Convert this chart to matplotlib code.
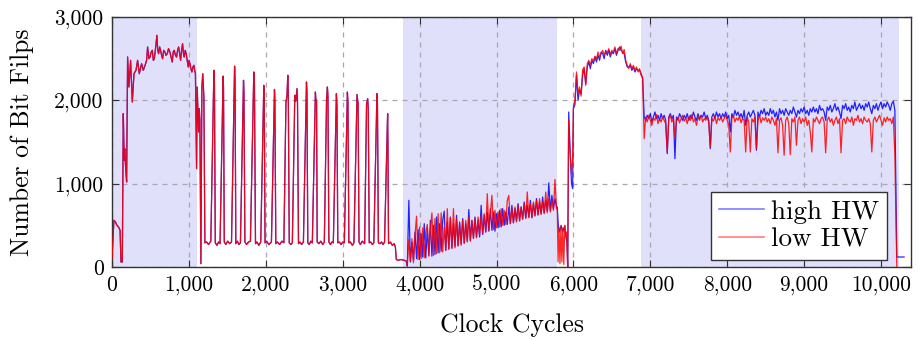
import numpy as np
import matplotlib
matplotlib.use("Agg")
import matplotlib.pyplot as plt
from matplotlib.ticker import FuncFormatter, MultipleLocator
from matplotlib.lines import Line2D


# -----------------------------
# Data
# -----------------------------
# first ~3800 cycles: both traces sit on top of each other
shared_points = [
    (0, 90), (12, 330), (25, 560), (45, 540), (65, 500), (85, 480), (105, 440),
    (117, 60), (134, 60), (147, 1840), (158, 1280), (166, 1420), (177, 1200),
    (190, 1020), (203, 2520), (220, 2160), (242, 2480), (264, 1980), (286, 2320),
    (312, 2360), (333, 2480), (355, 2320), (385, 2440), (407, 2360), (430, 2420),
    (450, 2480), (463, 2640), (480, 2500), (494, 2520), (510, 2580), (524, 2600),
    (538, 2480), (550, 2500), (566, 2620), (584, 2780), (595, 2600), (606, 2560),
    (620, 2640), (632, 2600), (645, 2540), (658, 2500), (672, 2600), (688, 2580),
    (702, 2540), (719, 2560), (735, 2620), (753, 2580), (768, 2520), (783, 2460),
    (796, 2580), (809, 2600), (825, 2540), (840, 2520), (853, 2600), (866, 2640),
    (880, 2560), (892, 2480), (905, 2600), (918, 2680), (929, 2560), (939, 2520),
    (952, 2600), (965, 2560), (978, 2480), (991, 2400), (1002, 2480), (1013, 2440),
    (1026, 2380), (1039, 2340), (1052, 2400), (1065, 2420), (1075, 2360),
    (1085, 2320), (1100, 1180), (1108, 2160), (1117, 1900), (1126, 1620),
    (1135, 1900), (1143, 1760), (1156, 40), (1169, 2160), (1180, 2320),
    (1195, 2040), (1208, 290),
    (1230, 300), (1255, 270), (1285, 310),
    (1325, 2360), (1332, 2200), (1343, 290),
    (1365, 260), (1385, 300), (1405, 280),
    (1445, 2290), (1450, 2150), (1460, 300),
    (1480, 270), (1505, 310), (1530, 280), (1554, 300),
    (1594, 2410), (1600, 2250), (1610, 280),
    (1630, 310), (1650, 270), (1670, 290),
    (1710, 2240), (1716, 2100), (1728, 300),
    (1750, 270), (1775, 300), (1800, 310),
    (1844, 2340), (1852, 2200), (1866, 280),
    (1885, 300), (1910, 260), (1934, 300),
    (1974, 2180), (1980, 2050), (1990, 290),
    (2010, 310), (2040, 270), (2073, 300),
    (2113, 2130), (2118, 2000), (2130, 280),
    (2150, 300), (2180, 270), (2210, 310), (2235, 290),
    (2262, 1980), (2275, 2050), (2286, 2300), (2292, 2100), (2305, 290),
    (2325, 270), (2345, 290),
    (2377, 2060), (2390, 1990), (2406, 2140), (2412, 2000), (2425, 280),
    (2445, 300), (2465, 270), (2489, 300),
    (2529, 2220), (2535, 2100), (2546, 290),
    (2565, 270), (2585, 310), (2605, 290),
    (2645, 2100), (2652, 1990), (2660, 2000), (2668, 300),
    (2690, 280), (2715, 310), (2740, 270), (2761, 300),
    (2790, 2010), (2801, 2160), (2808, 2050), (2820, 300),
    (2840, 270), (2860, 300), (2878, 290),
    (2918, 2080), (2925, 1950), (2936, 290),
    (2955, 300), (2980, 270), (3000, 300), (3021, 290),
    (3061, 2100), (3068, 1980), (3080, 290),
    (3100, 300), (3125, 260), (3146, 290),
    (3186, 2070), (3200, 1960), (3212, 300),
    (3230, 270), (3255, 310), (3285, 280),
    (3310, 1960), (3325, 2020), (3332, 1900), (3345, 290),
    (3365, 300), (3385, 270), (3405, 290),
    (3445, 2080), (3452, 1950), (3464, 290),
    (3485, 280), (3505, 300), (3525, 270), (3544, 300),
    (3584, 1840), (3588, 1500), (3596, 280),
    (3620, 300), (3645, 260), (3670, 280), (3685, 240), (3697, 90),
    (3720, 80), (3760, 90), (3800, 80), (3827, 70),
]

# rising saw-tooth section, one value every 20 cycles from 3840
saw_start, saw_step = 3840, 20
high_saw = [
    10, 800, 60, 300, 80, 420, 100, 450, 90, 400,
    120, 520, 110, 460, 140, 560, 130, 500, 150, 600,
    170, 520, 190, 560, 670, 200, 540, 220, 600, 230,
    520, 250, 620, 260, 540, 280, 580, 290, 520, 310,
    690, 320, 560, 350, 600, 360, 560, 360, 740, 390,
    620, 420, 660, 430, 700, 440, 660, 430, 640, 470,
    680, 480, 700, 500, 660, 510, 720, 520, 740, 530,
    700, 550, 760, 560, 720, 580, 780, 590, 740, 600,
    800, 590, 760, 620, 820, 630, 780, 640, 840, 650,
    800, 670, 1010, 680, 860, 700, 820, 720,
]
low_saw = [
    20, 330, 70, 340, 50, 380, 610, 90, 480, 100,
    470, 110, 420, 510, 130, 450, 650, 140, 580, 160,
    640, 170, 650, 180, 480, 200, 700, 210, 590, 220,
    700, 230, 580, 250, 520, 260, 570, 280, 560, 300,
    600, 310, 560, 340, 580, 350, 600, 380, 620, 400,
    640, 420, 880, 440, 640, 860, 450, 680, 470, 660,
    480, 700, 500, 680, 510, 800, 860, 520, 700, 530,
    720, 540, 740, 550, 720, 570, 760, 580, 900, 590,
    760, 600, 780, 610, 800, 620, 820, 630, 780, 640,
    900, 650, 820, 660, 800, 680, 1050, 700,
]

# collapse around 5800-6000 cycles
high_drop = [
    (5790, 720), (5805, 480), (5820, 420), (5840, 500), (5860, 420),
    (5880, 480), (5900, 380), (5915, 300), (5926, 0), (5939, 1860),
    (5957, 1400), (5975, 1000), (5990, 940), (6000, 1900),
]
low_drop = [
    (5790, 700), (5800, 60), (5812, 480), (5825, 40), (5838, 490),
    (5850, 60), (5862, 470), (5875, 30), (5888, 500), (5900, 360),
    (5912, 420), (5925, 0), (5938, 1760), (5955, 1400), (5975, 1120),
    (5990, 1300), (6000, 1920),
]

# second hump, one value every 20 cycles from 6020
hump_start, hump_step = 6020, 20
high_hump = [
    1950, 2300, 2000, 2120, 2080, 2300, 2380, 2200, 2400, 2460,
    2380, 2480, 2440, 2520, 2460, 2540, 2480, 2580, 2560, 2500,
    2600, 2540, 2600, 2520, 2580, 2560, 2620, 2540, 2600, 2640,
    2600, 2580, 2560, 2460, 2400, 2400, 2420, 2360, 2400, 2340,
    2380, 2360, 2360, 2320, 2260,
]
low_hump = [
    2000, 2340, 2080, 2160, 2050, 2370, 2400, 2180, 2440, 2480,
    2420, 2500, 2470, 2530, 2500, 2580, 2520, 2560, 2600, 2540,
    2590, 2570, 2620, 2550, 2600, 2580, 2640, 2560, 2620, 2600,
    2650, 2560, 2610, 2480, 2420, 2380, 2440, 2380, 2420, 2360,
    2400, 2340, 2380, 2300, 2280,
]

# long plateau, one value every 20 cycles from 6920
plat_start, plat_step = 6920, 20
high_plat = [
    1800, 1760, 1820, 1780, 1840, 1740, 1800, 1860, 1780, 1820,
    1760, 1840, 1780, 1820, 1760, 1360, 1800, 1840, 1780, 1820,
    1300, 1800, 1760, 1840, 1800, 1760, 1820, 1780, 1840, 1760,
    1820, 1780, 1860, 1800, 1760, 1840, 1780, 1820, 1800, 1860,
    1780, 1820, 1760, 1420, 1800, 1840, 1780, 1860, 1800, 1840,
    1780, 1840, 1800, 1860, 1780, 1820, 1620, 1840, 1800, 1880,
    1820, 1860, 1800, 1840, 1780, 1880, 1700, 1820, 1860, 1800,
    1840, 1880, 1820, 1400, 1860, 1800, 1880, 1840, 1900, 1820,
    1860, 1820, 1900, 1840, 1880, 1800, 1860, 1760, 1900, 1840,
    1880, 1820, 1900, 1860, 1820, 1880, 1840, 1920, 1860, 1800,
    1880, 1840, 1900, 1860, 1920, 1840, 1880, 1820, 1900, 1860,
    1920, 1860, 1900, 1840, 1940, 1880, 1900, 1860, 1760, 1920,
    1880, 1940, 1860, 1900, 1960, 1880, 1920, 1860, 1780, 1940,
    1900, 1960, 1880, 1920, 1860, 1940, 1900, 1980, 1880, 1920,
    1960, 1900, 1940, 1880, 1960, 1920, 1980, 1900, 1840, 1940,
    1900, 1960, 1880, 1940, 1980, 1900, 1960, 1920, 1980, 1940,
    1880, 1960, 1990, 1880,
]
low_plat = [
    1540, 1800, 1740, 1820, 1760, 1700, 1790, 1760, 1830, 1720,
    1780, 1740, 1800, 1760, 1720, 1380, 1780, 1820, 1740, 1790,
    1560, 1760, 1800, 1730, 1780, 1820, 1750, 1790, 1720, 1800,
    1760, 1830, 1740, 1780, 1700, 1800, 1760, 1820, 1740, 1780,
    1760, 1800, 1730, 1440, 1780, 1750, 1810, 1720, 1790, 1760,
    1800, 1740, 1780, 1820, 1760, 1700, 1380, 1780, 1820, 1740,
    1790, 1760, 1810, 1730, 1780, 1760, 1380, 1800, 1740, 1380,
    1780, 1740, 1800, 1420, 1760, 1820, 1730, 1790, 1760, 1800,
    1740, 1780, 1720, 1800, 1760, 1700, 1780, 1370, 1760, 1790,
    1700, 1340, 1760, 1800, 1720, 1350, 1780, 1740, 1800, 1460,
    1760, 1800, 1720, 1780, 1740, 1800, 1700, 1760, 1620, 1380,
    1780, 1740, 1800, 1760, 1720, 1780, 1800, 1740, 1370, 1760,
    1800, 1740, 1780, 1700, 1760, 1800, 1720, 1780, 1370, 1760,
    1780, 1720, 1800, 1760, 1740, 1800, 1700, 1780, 1760, 1820,
    1740, 1780, 1720, 1800, 1760, 1740, 1780, 1720, 1380, 1760,
    1800, 1740, 1780, 1820, 1760, 1700, 1790, 1740, 1800, 1760,
    1780, 1720, 1800, 1340,
]

# tail after the trace ends
high_tail = [(10205, 120), (10300, 120)]
low_tail = [(10205, 0)]

# shaded phases (start, end) in clock cycles
phases = [(0, 1100), (3790, 5790), (6880, 10235)]


# -----------------------------
# Helpers
# -----------------------------
def regular(start, step, vals):
    xs = start + step * np.arange(len(vals))
    return np.column_stack([xs, np.asarray(vals, dtype=float)])


def build_series(saw, drop, hump, plat, tail):
    parts = [
        np.array(shared_points, dtype=float),
        regular(saw_start, saw_step, saw),
        np.array(drop, dtype=float),
        regular(hump_start, hump_step, hump),
        regular(plat_start, plat_step, plat),
        np.array(tail, dtype=float),
    ]
    arr = np.vstack(parts)
    return arr[:, 0], arr[:, 1]


hx, hy = build_series(high_saw, high_drop, high_hump, high_plat, high_tail)
lx, ly = build_series(low_saw, low_drop, low_hump, low_plat, low_tail)


# -----------------------------
# Plot
# -----------------------------
plt.rcParams["font.family"] = ["cmr10", "DejaVu Serif"]
plt.rcParams["mathtext.fontset"] = "cm"
plt.rcParams["axes.formatter.use_mathtext"] = True

FS_TICK = 15.5
FS_LAB = 18.5
FS_LEG = 19.5

fig = plt.figure(figsize=(9.18, 3.4), dpi=100)
ax = fig.add_axes([0.1220, 0.2147, 0.8704, 0.7353])

for a, b in phases:
    ax.axvspan(a, b, color="#e0e0fa", lw=0, zorder=0)

ax.plot(hx, hy, color="blue", lw=0.9, alpha=0.85, zorder=2)
ax.plot(lx, ly, color="red", lw=0.9, alpha=0.85, zorder=3)

ax.set_xlim(0, 10390)
ax.set_ylim(0, 3000)
ax.xaxis.set_major_locator(MultipleLocator(1000))
ax.yaxis.set_major_locator(MultipleLocator(1000))
fmt = FuncFormatter(lambda v, p: f"{int(round(v)):,}")
ax.xaxis.set_major_formatter(fmt)
ax.yaxis.set_major_formatter(fmt)

ax.set_axisbelow(True)
ax.grid(True, color="#a8a8b4", ls=(0, (4, 4)), lw=0.9)
ax.tick_params(direction="in", length=5, width=0.8, color="#333333",
               top=True, right=True, labelsize=FS_TICK, pad=6)
for s in ax.spines.values():
    s.set_color("#333333")
    s.set_linewidth(1.0)

ax.set_xlabel("Clock Cycles", fontsize=FS_LAB)
ax.set_ylabel("Number of Bit Filps", fontsize=FS_LAB)
ax.xaxis.label.set_va("center")
ax.yaxis.label.set_va("center")
ax.xaxis.set_label_coords(0.5, (267 - 325) / 250)
ax.yaxis.set_label_coords((22 - 112) / 799, 0.5)

handles = [Line2D([], [], color="blue", lw=1.2, alpha=0.5),
           Line2D([], [], color="red", lw=1.2, alpha=0.5)]
leg = ax.legend(handles, ["high HW", "low HW"], loc="lower right",
                bbox_to_anchor=(0.970, 0.028), borderaxespad=0,
                fontsize=FS_LEG, fancybox=False, framealpha=1,
                edgecolor="#333333", handlelength=1.65,
                borderpad=0.3, labelspacing=0.15, handletextpad=0.25)
leg.get_frame().set_linewidth(1.0)

fig.savefig("out.png", dpi=100)
